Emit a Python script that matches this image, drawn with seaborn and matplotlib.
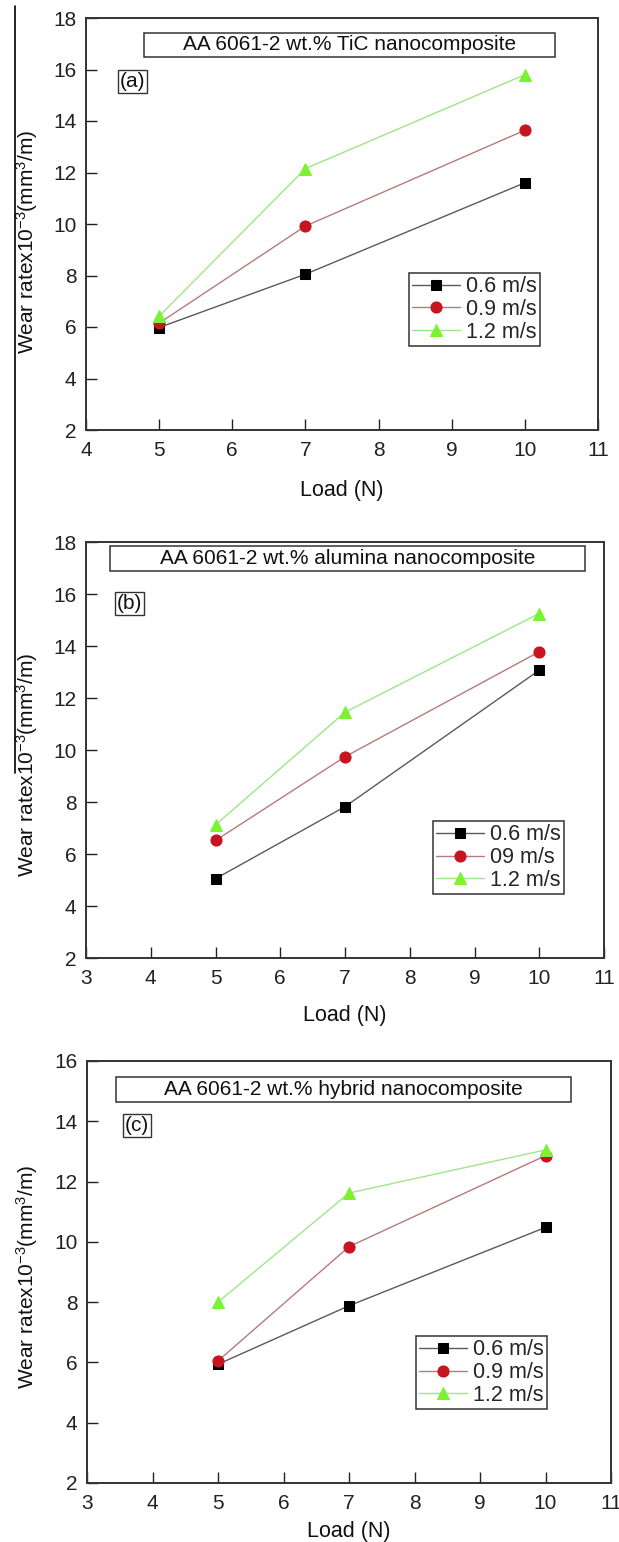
import matplotlib
matplotlib.use("Agg")
import matplotlib.pyplot as plt
import seaborn as sns
import pandas as pd
from matplotlib.patches import Rectangle
from matplotlib.lines import Line2D

sns.set_theme(style="white")
plt.rcParams['font.family'] = ['Liberation Sans', 'DejaVu Sans']
plt.rcParams['mathtext.fontset'] = 'custom'
plt.rcParams['mathtext.rm'] = 'Liberation Sans'
plt.rcParams['mathtext.it'] = 'Liberation Sans'

loads = [5, 7, 10]
speeds_a = ["0.6 m/s", "0.9 m/s", "1.2 m/s"]
speeds_b = ["0.6 m/s", "09 m/s", "1.2 m/s"]
speeds_c = ["0.6 m/s", "0.9 m/s", "1.2 m/s"]

tic_06 = [5.98, 8.05, 11.6]
tic_09 = [6.15, 9.92, 13.64]
tic_12 = [6.42, 12.15, 15.8]

alu_06 = [5.05, 7.82, 13.07]
alu_09 = [6.52, 9.74, 13.78]
alu_12 = [7.12, 11.45, 15.25]

hyb_06 = [5.94, 7.88, 10.48]
hyb_09 = [6.05, 9.84, 12.86]
hyb_12 = [8.0, 11.62, 13.05]

titles = ["AA 6061-2 wt.% TiC nanocomposite",
          "AA 6061-2 wt.% alumina nanocomposite",
          "AA 6061-2 wt.% hybrid nanocomposite"]
panel_tags = ["(a)", "(b)", "(c)"]

line_colors = ["#5a5a5a", "#b87a7a", "#9ee68a"]
marker_colors = ["#000000", "#c8141e", "#7cf230"]
markers = ["s", "o", "^"]
marker_sizes = [6.5, 8, 9]

W, H = 619, 1542
fig = plt.figure(figsize=(W / 100, H / 100), dpi=100)

panels = [
    dict(rect=(86, 598, 18, 430), series=[tic_06, tic_09, tic_12], labels=speeds_a,
         xlim=(4, 11), ylim=(2, 18), yt=range(2, 19, 2),
         tbox=(0.113, 0.916, 0.905, 0.964), tag=(0.091, 0.846),
         leg=(0.631, 0.381), ylab=(-0.09, 0.456), xpad=14),
    dict(rect=(86, 604, 542, 958), series=[alu_06, alu_09, alu_12], labels=speeds_b,
         xlim=(3, 11), ylim=(2, 18), yt=range(2, 19, 2),
         tbox=(0.046, 0.963, 0.930, 0.990), tag=(0.084, 0.852),
         leg=(0.670, 0.329), ylab=(-0.089, 0.464), xpad=12),
    dict(rect=(87, 611, 1061, 1483), series=[hyb_06, hyb_09, hyb_12], labels=speeds_c,
         xlim=(3, 11), ylim=(2, 16), yt=range(2, 17, 2),
         tbox=(0.055, 0.924, 0.903, 0.962), tag=(0.095, 0.847),
         leg=(0.628, 0.348), ylab=(-0.09, 0.488), xpad=6),
]

for i, p in enumerate(panels):
    l, r, t, b = p["rect"]
    ax = fig.add_axes([l / W, 1 - b / H, (r - l) / W, (b - t) / H])
    for j, vals in enumerate(p["series"]):
        df = pd.DataFrame({"Load": loads, "Wear": vals})
        sns.lineplot(data=df, x="Load", y="Wear", ax=ax, color=line_colors[j],
                     linewidth=1.0, marker=markers[j], markersize=marker_sizes[j],
                     markerfacecolor=marker_colors[j], markeredgecolor=marker_colors[j],
                     label=p["labels"][j])
    ax.set_xlim(*p["xlim"])
    ax.set_ylim(*p["ylim"])
    ax.set_xticks(range(p["xlim"][0], p["xlim"][1] + 1))
    ax.set_yticks(list(p["yt"]))
    ax.tick_params(direction="in", length=8, width=1.0, colors="#222222",
                   labelsize=15, bottom=True, left=True, top=False, right=False)
    ax.tick_params(axis="x", pad=8)
    ax.tick_params(axis="y", pad=7)
    for s in ax.spines.values():
        s.set_color("#333333")
        s.set_linewidth(1.4)
    ax.set_xlabel("Load (N)", fontsize=15.5, labelpad=p["xpad"], color="#111111")
    ax.set_ylabel(r"Wear ratex10$^{-3}$(mm$^{3}$/m)", fontsize=15, color="#111111")
    ax.yaxis.set_label_coords(*p["ylab"])

    x0, x1, y0, y1 = p["tbox"]
    ax.add_patch(Rectangle((x0, y0), x1 - x0, y1 - y0, transform=ax.transAxes,
                           fill=False, edgecolor="#333333", linewidth=1.1))
    ax.text((x0 + x1) / 2, (y0 + y1) / 2, titles[i], transform=ax.transAxes,
            ha="center", va="center", fontsize=15, color="#111111")
    ax.text(p["tag"][0], p["tag"][1], panel_tags[i], transform=ax.transAxes,
            ha="center", va="center", fontsize=15, color="#111111",
            bbox=dict(boxstyle="square,pad=0.1", fc="white", ec="#333333", lw=1.0))

    leg = ax.legend(loc="upper left", bbox_to_anchor=p["leg"], fontsize=15.5,
                    frameon=True, fancybox=False, edgecolor="#333333",
                    handlelength=2.2, handletextpad=0.3, labelspacing=0.08,
                    borderpad=0.15, borderaxespad=0.0, framealpha=1)
    leg.get_frame().set_linewidth(1.1)

fig.add_artist(Line2D([15 / W, 15 / W], [1 - 6 / H, 1 - 773 / H], color="black",
                      linewidth=1.2, transform=fig.transFigure))

fig.savefig("out.png", dpi=100)
